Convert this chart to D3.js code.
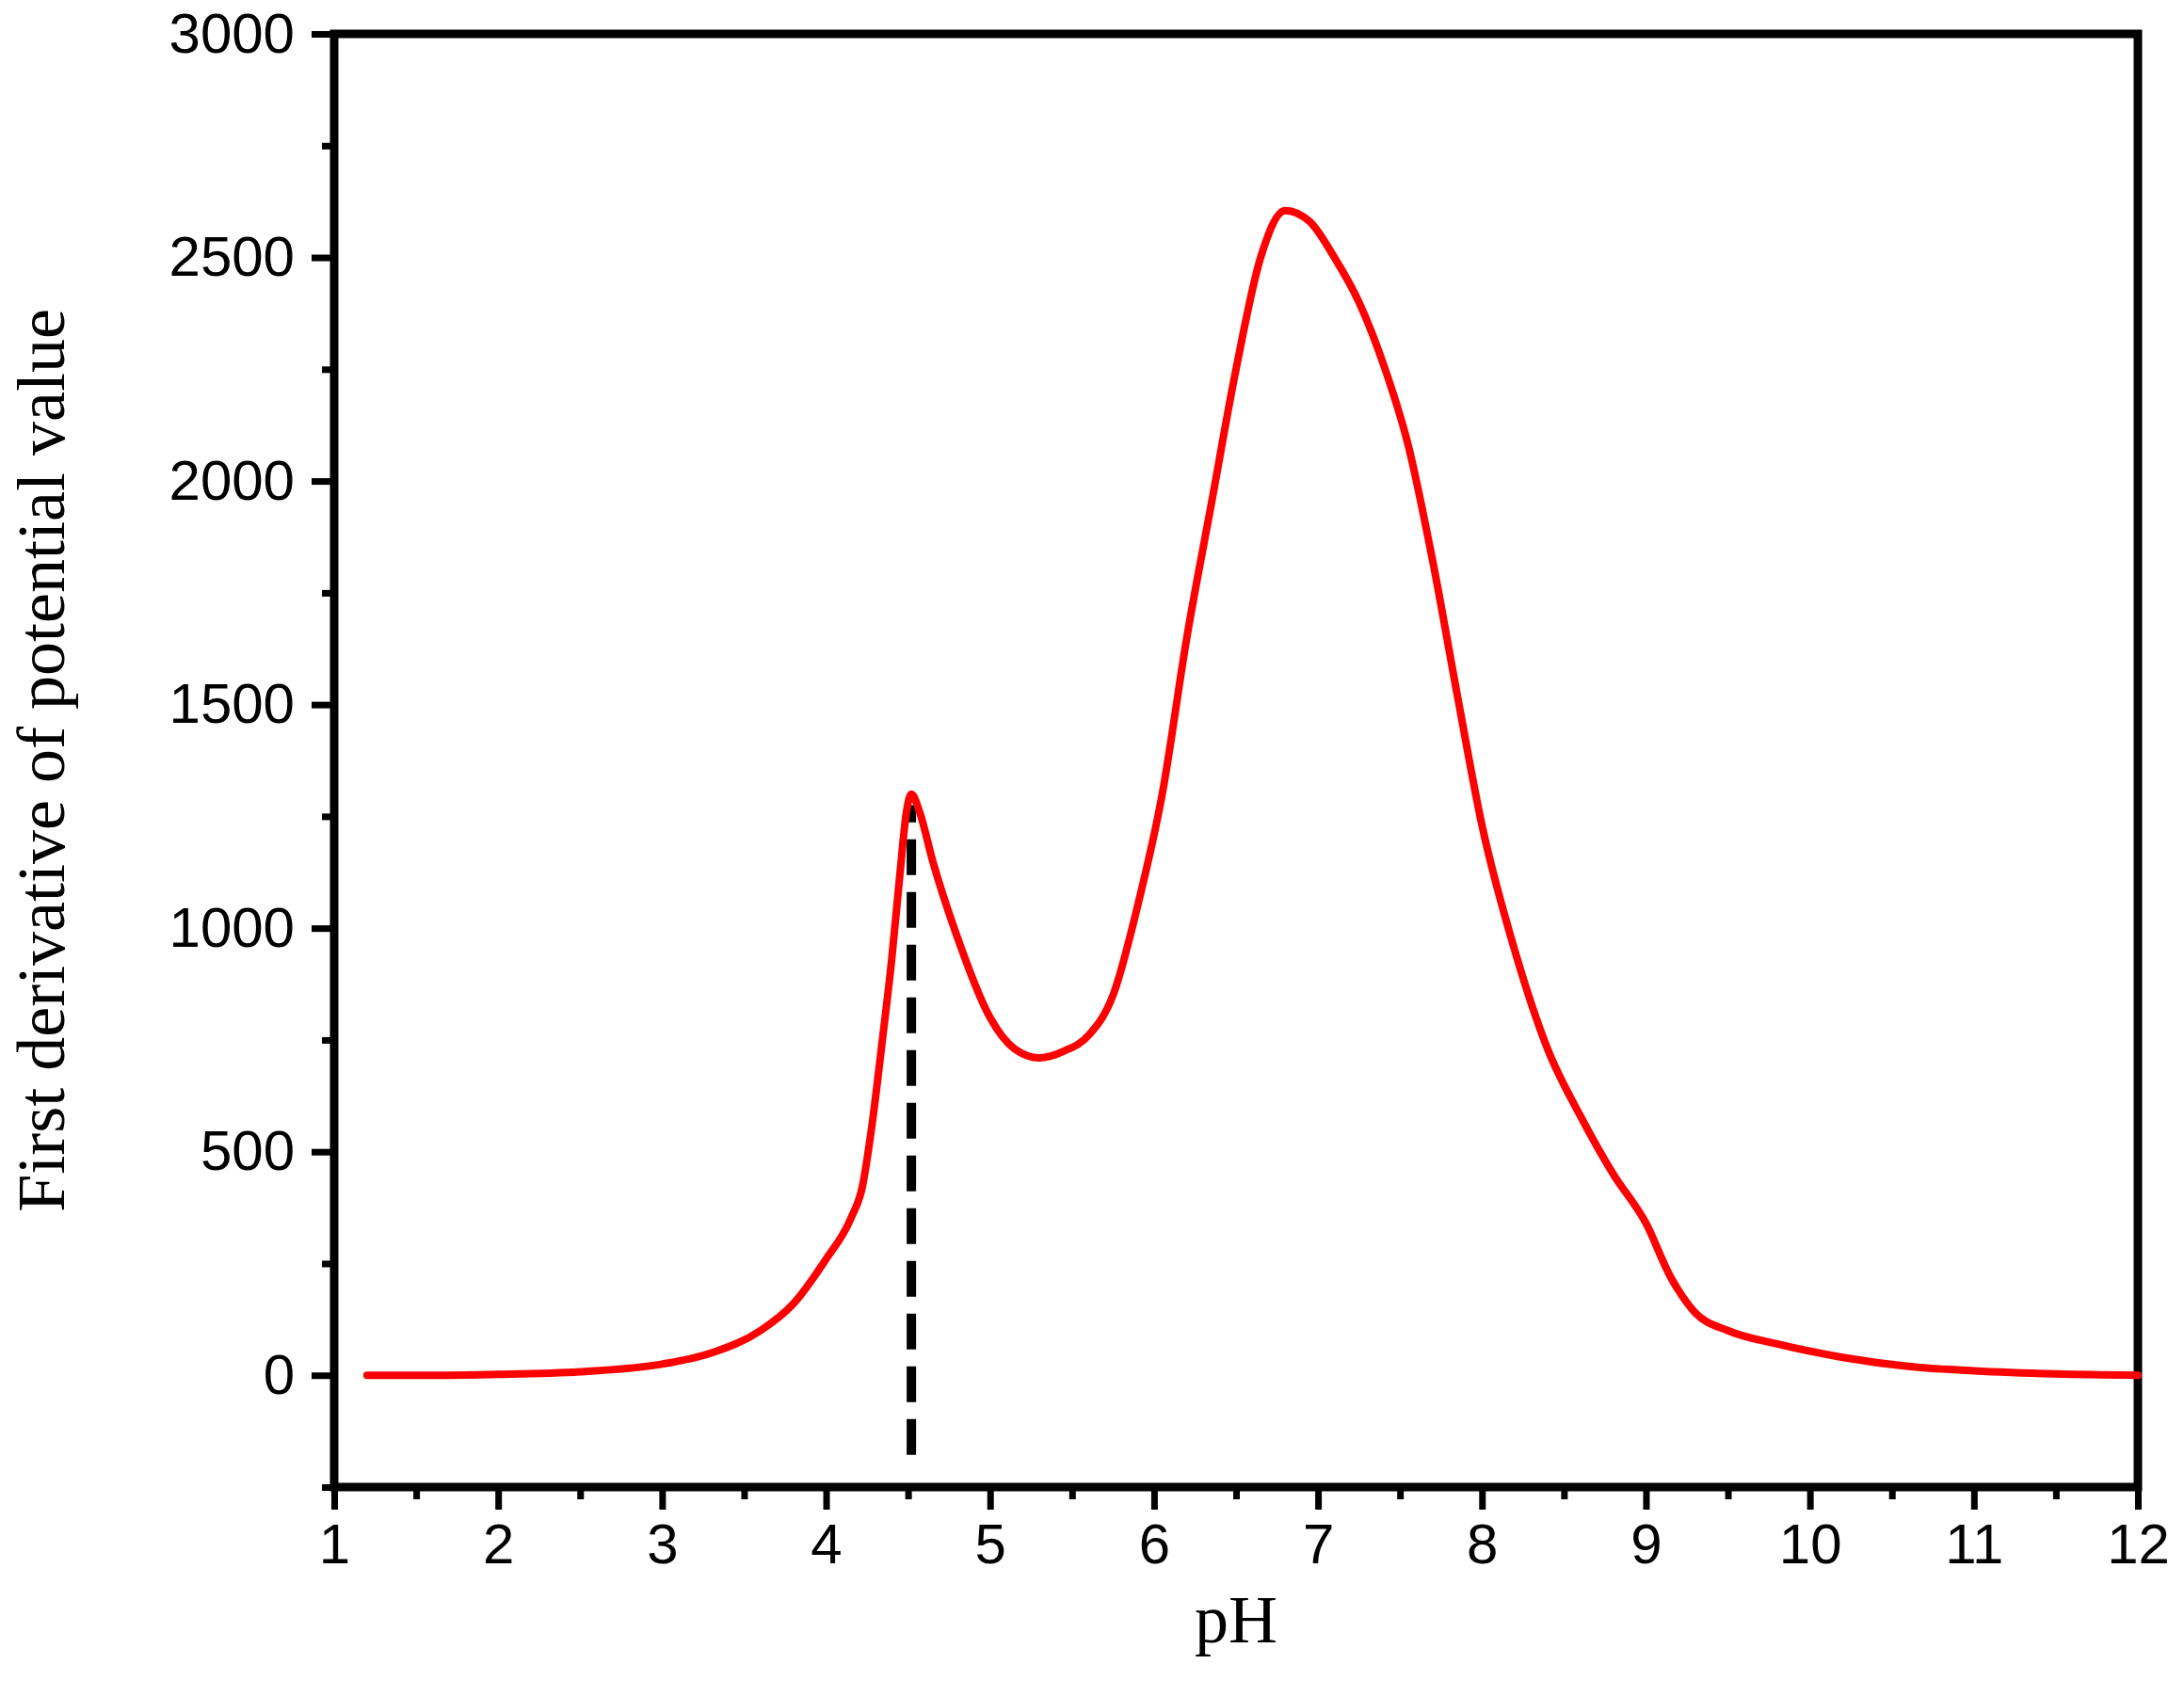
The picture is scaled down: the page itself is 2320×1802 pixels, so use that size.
<!DOCTYPE html>
<html><head><meta charset="utf-8">
<script src="https://cdn.jsdelivr.net/npm/d3@7"></script>
<style>body{margin:0;background:#fff}</style>
</head><body><svg></svg>
<script>
const width = 2320, height = 1802;
const margin = {left: 355, right: 49, top: 36, bottom: 222};

const pH = [1.2,1.5,2,2.5,3,3.3,3.6,3.8,4.0,4.15,4.22,4.28,4.34,4.4,4.45,4.49,4.52,4.57,4.65,4.8,5.0,5.15,5.3,5.45,5.6,5.75,5.9,6.05,6.2,6.35,6.5,6.65,6.8,6.95,7.1,7.25,7.4,7.55,7.7,7.85,8.0,8.2,8.4,8.6,8.8,9.0,9.15,9.3,9.5,9.8,10.2,10.6,11,11.5,12];
const deriv = [0,0,2,8,25,50,100,160,260,350,420,560,740,930,1120,1260,1300,1260,1150,980,800,730,710,725,760,850,1050,1300,1650,1950,2250,2500,2605,2580,2500,2400,2260,2080,1820,1520,1230,950,730,580,450,340,220,140,100,70,40,20,10,3,0];
const xTicks = d3.range(1, 13);
const yTicks = d3.range(0, 3001, 500);
const marker = {pH: 4.52, from: -178, to: 1275};

const svg = d3.select("svg").attr("width", width).attr("height", height);
const x = d3.scaleLinear().domain([1, 12]).range([margin.left, width - margin.right]);
const y = d3.scaleLinear().domain([-250, 3000]).range([height - margin.bottom, margin.top]);

// frame
svg.append("rect")
  .attr("x", x(1)).attr("y", y(3000))
  .attr("width", x(12) - x(1)).attr("height", y(-250) - y(3000))
  .attr("fill", "none").attr("stroke", "#000").attr("stroke-width", 9);

const tickFont = "Liberation Sans, Arial, sans-serif";

svg.append("g").attr("transform", `translate(0,${y(-250)})`)
  .call(d3.axisBottom(x).tickValues(xTicks).tickSize(24).tickPadding(14).tickFormat(d3.format("d")));
svg.append("g").attr("transform", `translate(0,${y(-250)})`)
  .call(d3.axisBottom(x).tickValues(d3.range(1.5, 12, 1)).tickSize(13).tickFormat(""));

svg.append("g").attr("transform", `translate(${x(1)},0)`)
  .call(d3.axisLeft(y).tickValues(yTicks).tickSize(24).tickPadding(18).tickFormat(d3.format("d")));
svg.append("g").attr("transform", `translate(${x(1)},0)`)
  .call(d3.axisLeft(y).tickValues(d3.range(-250, 3000, 500)).tickSize(13).tickFormat(""));

svg.selectAll(".domain").remove();
svg.selectAll(".tick line").attr("stroke", "#000").attr("stroke-width", 7);
svg.selectAll(".tick text").attr("fill", "#000")
  .style("font-family", tickFont).style("font-size", "60px");

// dashed marker
svg.append("line")
  .attr("x1", x(marker.pH)).attr("x2", x(marker.pH))
  .attr("y1", y(marker.from)).attr("y2", y(marker.to))
  .attr("stroke", "#000").attr("stroke-width", 10).attr("stroke-dasharray", "38,18");

// curve
const line = d3.line().x(d => x(d[0])).y(d => y(d[1])).curve(d3.curveMonotoneX);
svg.append("path")
  .datum(d3.zip(pH, deriv))
  .attr("d", line)
  .attr("fill", "none").attr("stroke", "#ff0000").attr("stroke-width", 8)
  .attr("stroke-linecap", "round").attr("stroke-linejoin", "round");

// axis titles
svg.append("text")
  .attr("x", (x(1) + x(12)) / 2).attr("y", 1745)
  .attr("text-anchor", "middle")
  .style("font-family", "Liberation Serif, Times New Roman, serif").style("font-size", "72px")
  .text("pH");
svg.append("text")
  .attr("transform", `translate(68,${(y(-250) + y(3000)) / 2}) rotate(-90)`)
  .attr("text-anchor", "middle")
  .style("font-family", "Liberation Serif, Times New Roman, serif").style("font-size", "72px")
  .text("First derivative of potential value");
</script>
</body></html>
